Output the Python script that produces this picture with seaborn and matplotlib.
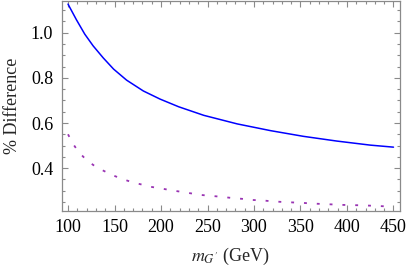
import numpy as np
import pandas as pd
import matplotlib
matplotlib.use("Agg")
import matplotlib.pyplot as plt
import seaborn as sns
from matplotlib.ticker import MultipleLocator

mass_solid = [100, 109, 118, 127, 138, 149, 163, 181, 199, 219, 246, 282, 318, 353, 389, 425, 450]
solid = [1.127, 1.058, 0.994, 0.942, 0.888, 0.839, 0.790, 0.742, 0.706, 0.672, 0.634, 0.596, 0.566, 0.541, 0.520, 0.502, 0.493]
mass_dashed = [100, 105, 111.5, 119.4, 128.4, 137.4, 147.7, 157.8, 167.8, 178.5, 189.3, 200, 210.9, 221.7, 232.5, 243.3,
               254, 264.8, 275.6, 287, 297.8, 308.6, 319.4, 330.8, 341.6, 352.4, 363.2, 374, 385.1, 395.8, 406.6,
               417.4, 428.8, 439.6, 450]
dashed = [0.550, 0.510, 0.471, 0.438, 0.410, 0.390, 0.369, 0.353, 0.339, 0.328, 0.317, 0.310, 0.302, 0.295, 0.288, 0.281,
          0.277, 0.273, 0.268, 0.264, 0.259, 0.257, 0.253, 0.250, 0.248, 0.246, 0.243, 0.241, 0.239, 0.237, 0.236,
          0.235, 0.233, 0.231, 0.229]
xticks = [100, 150, 200, 250, 300, 350, 400, 450]
yticks = [0.4, 0.6, 0.8, 1.0]

sns.set_style("ticks")
plt.rcParams["font.family"] = "serif"
plt.rcParams["font.serif"] = ["Liberation Serif", "DejaVu Serif"]
plt.rcParams["mathtext.fontset"] = "stix"

df_s = pd.DataFrame({"m": mass_solid, "v": solid})
df_d = pd.DataFrame({"m": mass_dashed, "v": dashed})

fig = plt.figure(figsize=(4.07, 2.69), dpi=100)
ax = fig.add_axes([61.5 / 407, 1 - 211 / 269, (400 - 61.5) / 407, 210.5 / 269])

sns.lineplot(data=df_s, x="m", y="v", ax=ax, color=(0, 0, 1), lw=1.1)
sns.lineplot(data=df_d, x="m", y="v", ax=ax, color=(0.6, 0.2, 0.7), lw=1.3)
ax.lines[1].set_dashes((1.6, 5.5))

ax.set_xlim(93, 457)
ax.set_ylim(0.21, 1.143)
ax.set_xticks(xticks)
ax.set_xticklabels([str(t) for t in xticks])
ax.set_yticks(yticks)
ax.set_yticklabels([f"{t:.1f}" for t in yticks])
ax.xaxis.set_minor_locator(MultipleLocator(10))
ax.yaxis.set_minor_locator(MultipleLocator(0.05))

gray = "#8a8a8a"
for s in ax.spines.values():
    s.set_color(gray)
    s.set_linewidth(0.9)
    s.set_visible(True)
ax.tick_params(which="both", direction="in", top=True, right=True, color=gray, width=0.8, labelsize=13, pad=6, labelcolor="black")
ax.tick_params(which="major", length=4.5)
ax.tick_params(which="minor", length=2.5)

ax.set_xlabel(r"$m_{G^{\prime}}$ (GeV)", fontsize=13, labelpad=7)
ax.set_ylabel("% Difference", fontsize=13, labelpad=7)

fig.savefig("out.png", dpi=100)
